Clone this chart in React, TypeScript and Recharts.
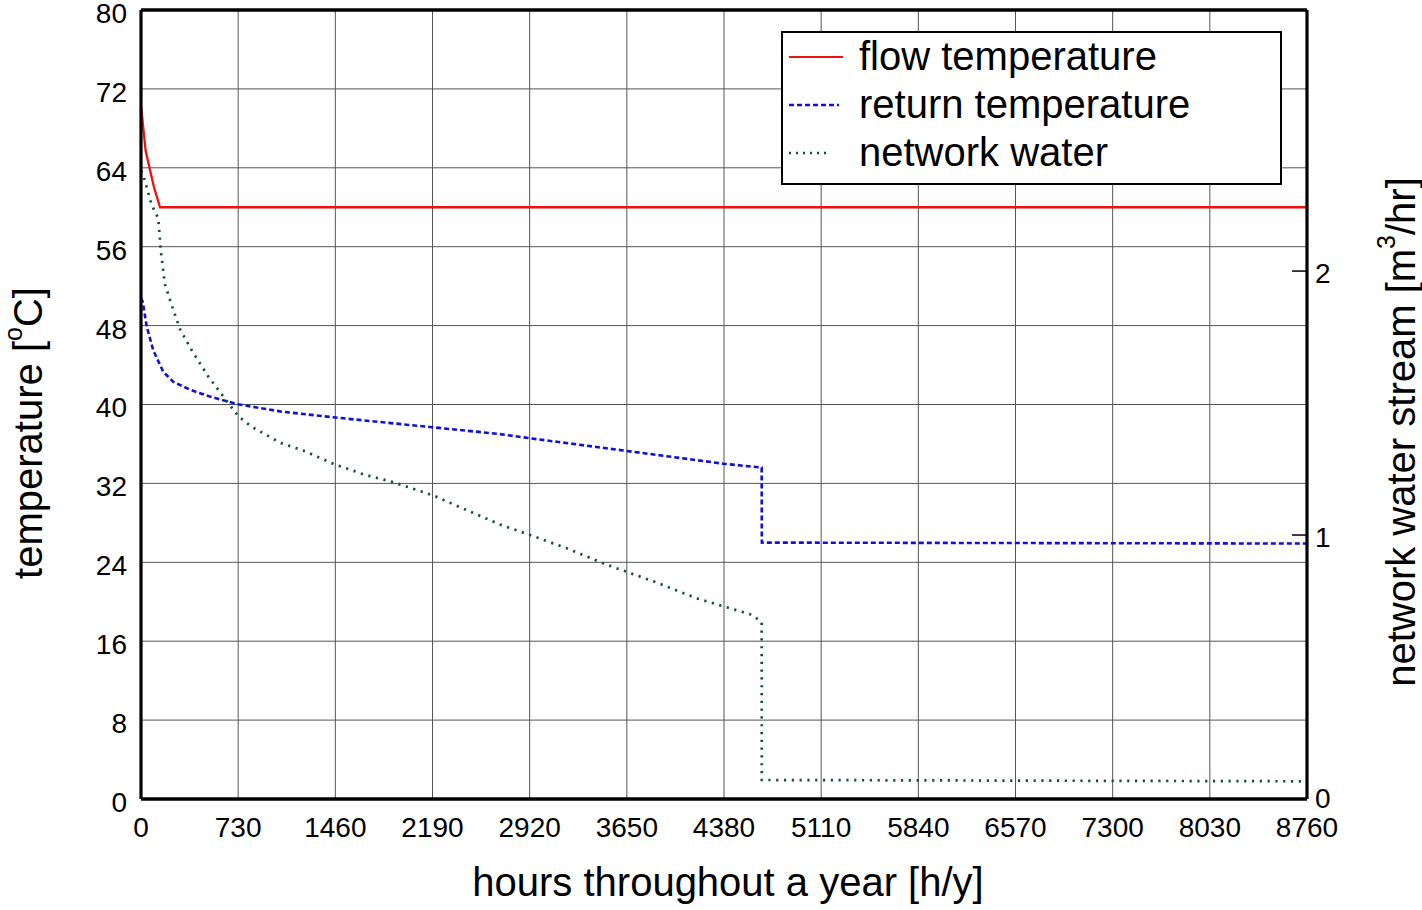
import React from 'react';
import { LineChart, Line, XAxis, YAxis, CartesianGrid, Legend, ReferenceLine } from 'recharts';

const xTicks = [0, 730, 1460, 2190, 2920, 3650, 4380, 5110, 5840, 6570, 7300, 8030, 8760];
const tempTicks = [0, 8, 16, 24, 32, 40, 48, 56, 64, 72, 80];
const flowTicks = [0, 1, 2];

const flowHours = [0, 35, 98, 143, 8760];
const flowTemp = [70.3, 65.7, 62.0, 60.0, 60.0];

const returnHours = [0, 13, 43, 92, 168, 243, 368, 518, 719, 1044, 1445, 2184, 2697, 2910, 3644, 4375, 4663, 4664, 8760];
const returnTemp = [50.8, 50.4, 47.9, 45.5, 43.3, 42.3, 41.5, 40.8, 40.05, 39.3, 38.7, 37.7, 37.0, 36.6, 35.3, 34.0, 33.6, 26.0, 25.9];

const networkHours = [0, 13, 30, 80, 130, 148, 180, 231, 293, 381, 506, 656, 731, 832, 939, 1044, 1219, 1445, 1670, 1896, 2196, 2421, 2697, 2923, 3198, 3486, 3874, 4175, 4375, 4575, 4638, 4663, 4664, 8760];
const networkFlow = [2.38, 2.37, 2.34, 2.25, 2.2, 2.08, 1.95, 1.87, 1.78, 1.7, 1.6, 1.5, 1.45, 1.41, 1.38, 1.35, 1.32, 1.27, 1.23, 1.2, 1.15, 1.1, 1.04, 1.0, 0.95, 0.89, 0.82, 0.76, 0.73, 0.7, 0.68, 0.67, 0.072, 0.067];

const flowData = flowHours.map((h, i) => ({ h, v: flowTemp[i] }));
const returnData = returnHours.map((h, i) => ({ h, v: returnTemp[i] }));
const networkData = networkHours.map((h, i) => ({ h, v: networkFlow[i] }));

const FONT = '"Liberation Sans", Arial, sans-serif';
const RED = '#ee1111';
const BLUE = '#1010dd';
const GREEN = '#0f5236';

const LeftTick = (props: any) => {
  const { x, y, payload } = props;
  return (
    <text x={x} y={y + 3} dy="0.355em" fontSize={28} fontFamily={FONT} fill="#000" textAnchor="end">
      {payload.value}
    </text>
  );
};

const BottomTick = (props: any) => {
  const { x, y, payload } = props;
  return (
    <text x={x} y={y} dy="0.71em" fontSize={28} fontFamily={FONT} fill="#000" textAnchor="middle">
      {payload.value}
    </text>
  );
};

const RightTick = (props: any) => {
  const { x, y, payload } = props;
  return (
    <g>
      <line x1={x - 15} y1={y} x2={x} y2={y} stroke="#000" strokeWidth={1.5} />
      <text x={x + 8} y={y + (payload.value === 0 ? -1 : 2)} dy="0.355em" fontSize={28} fontFamily={FONT} fill="#000" textAnchor="start">
        {payload.value}
      </text>
    </g>
  );
};

const XLabel = (props: any) => {
  const vb = props.viewBox || {};
  return (
    <text x={vb.x + vb.width / 2 + 4} y={vb.y + 97} textAnchor="middle" fontSize={40} fontFamily={FONT} fill="#000">
      hours throughout a year [h/y]
    </text>
  );
};

const LeftLabel = (props: any) => {
  const vb = props.viewBox || {};
  const cx = vb.x + 28;
  const cy = 433;
  return (
    <text x={cx} y={cy} transform={`rotate(-90 ${cx} ${cy})`} textAnchor="middle" dominantBaseline="central" fontSize={40} fontFamily={FONT} fill="#000">
      temperature [<tspan fontSize={25} dy={-15}>o</tspan><tspan dy={15}>C]</tspan>
    </text>
  );
};

const RightLabel = () => {
  const cx = 1401;
  const cy = 432;
  return (
    <text x={cx} y={cy} transform={`rotate(-90 ${cx} ${cy})`} textAnchor="middle" dominantBaseline="central" fontSize={40} fontFamily={FONT} fill="#000">
      network water stream [m<tspan fontSize={25} dy={-15}>3</tspan><tspan dy={15}>/hr]</tspan>
    </text>
  );
};

const legendItems = [
  { label: 'flow temperature', color: RED, dash: undefined as string | undefined, w: 2, len: 54 },
  { label: 'return temperature', color: BLUE, dash: '5 3', w: 2.3, len: 50 },
  { label: 'network water', color: GREEN, dash: '2 5', w: 2.3, len: 42 },
];

const LegendBox = () => (
  <div
    style={{
      width: 501,
      height: 154,
      boxSizing: 'border-box',
      border: '2px solid #000',
      background: '#fff',
      fontFamily: FONT,
      textAlign: 'left',
    }}
  >
    {legendItems.map((it) => (
      <div key={it.label} style={{ height: 48, position: 'relative' }}>
        <svg width={60} height={10} style={{ position: 'absolute', left: 6, top: 19 }}>
          <line x1={0} y1={5} x2={it.len} y2={5} stroke={it.color} strokeWidth={it.w} strokeDasharray={it.dash} />
        </svg>
        <span style={{ position: 'absolute', left: 76, top: 0, fontSize: 40, lineHeight: '46px', color: '#000', whiteSpace: 'nowrap' }}>{it.label}</span>
      </div>
    ))}
  </div>
);

export default function App() {
  return (
    <div style={{ position: 'absolute', left: 0, top: 0, width: 1422, height: 910, background: '#fff' }}>
      <LineChart width={1422} height={910} margin={{ top: 10, right: 0, bottom: 0, left: 0 }}>
        <CartesianGrid yAxisId="left" stroke="#555" strokeWidth={1} />
        <XAxis
          dataKey="h"
          type="number"
          domain={[0, 8760]}
          ticks={xTicks}
          interval={0}
          height={111}
          tickSize={0}
          tickMargin={18}
          tickLine={false}
          axisLine={{ stroke: '#000', strokeWidth: 3.5 }}
          tick={<BottomTick />}
          allowDuplicatedCategory={false}
          label={<XLabel />}
        />
        <YAxis
          yAxisId="left"
          type="number"
          domain={[0, 80]}
          ticks={tempTicks}
          interval={0}
          width={141}
          tickSize={0}
          tickMargin={14}
          tickLine={false}
          axisLine={{ stroke: '#000', strokeWidth: 3.2 }}
          tick={<LeftTick />}
          label={<LeftLabel />}
        />
        <YAxis
          yAxisId="right"
          orientation="right"
          type="number"
          domain={[0, 2.989]}
          ticks={flowTicks}
          interval={0}
          width={115}
          tickSize={0}
          tickMargin={0}
          tickLine={false}
          axisLine={{ stroke: '#000', strokeWidth: 3.2 }}
          tick={<RightTick />}
          allowDataOverflow
          label={<RightLabel />}
        />
        <ReferenceLine yAxisId="left" y={80} stroke="#000" strokeWidth={3.5} />
        <Line
          yAxisId="left"
          data={flowData}
          dataKey="v"
          type="linear"
          stroke={RED}
          strokeWidth={2.3}
          dot={false}
          isAnimationActive={false}
          name="flow temperature"
        />
        <Line
          yAxisId="left"
          data={returnData}
          dataKey="v"
          type="linear"
          stroke={BLUE}
          strokeWidth={2.6}
          strokeDasharray="5 3"
          dot={false}
          isAnimationActive={false}
          name="return temperature"
        />
        <Line
          yAxisId="right"
          data={networkData}
          dataKey="v"
          type="linear"
          stroke={GREEN}
          strokeWidth={2.7}
          strokeDasharray="2.2 5.6"
          dot={false}
          isAnimationActive={false}
          name="network water"
        />
        <Legend
          layout="horizontal"
          verticalAlign="middle"
          align="center"
          content={<LegendBox />}
          wrapperStyle={{ position: 'absolute', top: 31, left: 781, width: 501, height: 154 }}
        />
      </LineChart>
    </div>
  );
}
